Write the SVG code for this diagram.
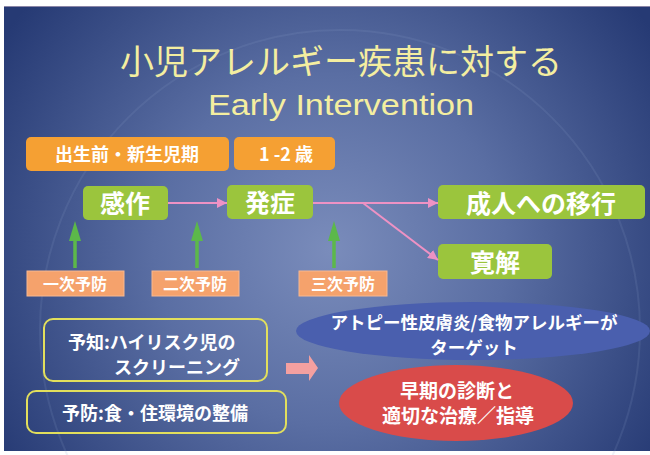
<svg xmlns="http://www.w3.org/2000/svg" width="650" height="455" viewBox="0 0 650 455">
<defs>
<radialGradient id="bg" cx="330" cy="250" r="390" gradientUnits="userSpaceOnUse">
<stop offset="0" stop-color="#7a8cbb"/>
<stop offset="0.45" stop-color="#5a6ea3"/>
<stop offset="1" stop-color="#263a74"/>
</radialGradient>
<marker id="pinkHead" markerUnits="userSpaceOnUse" markerWidth="12" markerHeight="10" refX="10" refY="5" orient="auto">
<path d="M0,0 L10,5 L0,10 Z" fill="#ee92c4"/>
</marker>
<style>
.jp{font-family:"Noto Sans CJK JP","Noto Sans",sans-serif;}
.title{fill:#f4eea0;text-anchor:middle;}
.orange{fill:#f5a033;}
.green{fill:#9bc53d;}
.pk{fill:#f5a26c;stroke:#f8b890;stroke-width:1;}
.wt{fill:#ffffff;text-anchor:middle;font-weight:bold;}
.yb{fill:none;stroke:#e2df5c;stroke-width:2;}
.pline{stroke:#ee92c4;stroke-width:2;fill:none;marker-end:url(#pinkHead);}
.gline{stroke:#5cb84a;stroke-width:3.5;fill:none;}
.ghead{fill:#5cb84a;}
</style>
</defs>
<rect width="650" height="455" fill="#ffffff"/>
<rect x="4" y="6" width="646" height="445" fill="url(#bg)"/>
<line x1="4" y1="6.5" x2="650" y2="6.5" stroke="#8a86a8" stroke-width="1"/>
<circle cx="340" cy="330" r="300" fill="none" stroke="#8fa0cc" stroke-opacity="0.15" stroke-width="2"/>

<g id="title">
<text class="jp title" x="341" y="74" font-size="34">小児アレルギー疾患に対する</text>
<text class="title" x="341" y="115" font-size="30" font-family="'Liberation Sans', Arial, sans-serif" textLength="266" lengthAdjust="spacingAndGlyphs">Early Intervention</text>
</g>

<g id="period1"><rect class="orange" x="26" y="137" width="203" height="34" rx="5"/><text class="jp wt" x="127" y="161" font-size="18">出生前・新生児期</text></g>
<g id="period2"><rect class="orange" x="234" y="137" width="101" height="33" rx="5"/><text class="jp wt" x="286" y="161" font-size="18">1 -2 歳</text></g>

<g id="kansaku"><rect class="green" x="83" y="186" width="85" height="34" rx="5"/><text class="jp wt" x="125" y="213" font-size="25">感作</text></g>
<g id="hassho"><rect class="green" x="227" y="185" width="86" height="34" rx="5"/><text class="jp wt" x="270" y="212" font-size="25">発症</text></g>
<g id="seijin"><rect class="green" x="438" y="185" width="207" height="34" rx="5"/><text class="jp wt" x="541" y="213" font-size="25">成人への移行</text></g>
<g id="kankai"><rect class="green" x="438" y="244" width="114" height="35" rx="5"/><text class="jp wt" x="495" y="272" font-size="25">寛解</text></g>

<g id="prev1"><rect class="pk" x="27" y="271" width="97" height="25"/><text class="jp wt" x="75" y="290" font-size="16">一次予防</text></g>
<g id="prev2"><rect class="pk" x="152" y="271" width="87" height="25"/><text class="jp wt" x="195" y="290" font-size="16">二次予防</text></g>
<g id="prev3"><rect class="pk" x="299" y="271" width="88" height="25"/><text class="jp wt" x="343" y="290" font-size="16">三次予防</text></g>

<g id="connectors">
<line class="pline" x1="168" y1="203" x2="227" y2="203"/>
<line class="pline" x1="313" y1="203" x2="438" y2="203"/>
<line class="pline" x1="363" y1="203" x2="438" y2="260"/>
<line class="gline" x1="75" y1="268" x2="75" y2="238"/>
<polygon class="ghead" points="69,241 75,221 81,241"/>
<line class="gline" x1="197" y1="268" x2="197" y2="238"/>
<polygon class="ghead" points="191,241 197,221 203,241"/>
<line class="gline" x1="334" y1="268" x2="334" y2="238"/>
<polygon class="ghead" points="328,241 334,221 340,241"/>
<polygon points="286,363 309,363 309,355 318,368 309,381 309,374 286,374" fill="#f4a0a0"/>
</g>

<g id="yochi"><rect class="yb" x="44" y="319" width="223" height="62" rx="9"/>
<text class="jp" x="68" y="349" font-size="18" fill="#ffffff" font-weight="bold">予知:ハイリスク児の</text>
<text class="jp" x="240" y="374" font-size="18" fill="#ffffff" font-weight="bold" text-anchor="end">スクリーニング</text></g>
<g id="yobou"><rect class="yb" x="27" y="391" width="259" height="42" rx="9"/>
<text class="jp wt" x="155" y="420" font-size="18">予防:食・住環境の整備</text></g>

<g id="target"><ellipse cx="473" cy="331" rx="177" ry="29" fill="#4a5fae"/>
<text class="jp wt" x="474" y="329" font-size="17.5">アトピー性皮膚炎/食物アレルギーが</text>
<text class="jp wt" x="474" y="354" font-size="17.5">ターゲット</text></g>
<g id="early"><ellipse cx="456" cy="403" rx="117" ry="38" fill="#d94b4a"/>
<text class="jp wt" x="457" y="398" font-size="19">早期の診断と</text>
<text class="jp wt" x="458" y="423" font-size="19">適切な治療／指導</text></g>
</svg>
